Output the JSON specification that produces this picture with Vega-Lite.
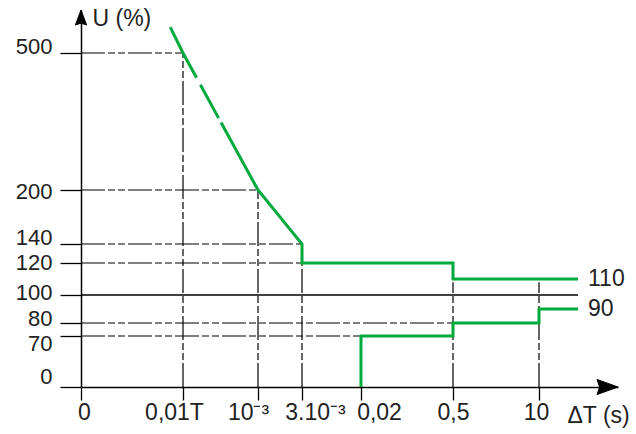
{
  "$schema": "https://vega.github.io/schema/vega-lite/v6.json",
  "width": 555,
  "height": 387,
  "autosize": {"type": "none"},
  "padding": {"left": 81, "top": 0, "right": 0, "bottom": 47},
  "background": "white",
  "config": {"view": {"stroke": null}, "font": "Liberation Sans"},
  "datasets": {
    "guides": [
      {"t": 0, "t2": 0.0002, "u": 500, "u2": 500},
      {"t": 0, "t2": 0.001, "u": 200, "u2": 200},
      {"t": 0, "t2": 0.003, "u": 140, "u2": 140},
      {"t": 0, "t2": 0.003, "u": 120, "u2": 120},
      {"t": 0, "t2": 0.5, "u": 80, "u2": 80},
      {"t": 0, "t2": 0.02, "u": 70, "u2": 70},
      {"t": 0.0002, "t2": 0.0002, "u": 0, "u2": 500},
      {"t": 0.001, "t2": 0.001, "u": 0, "u2": 200},
      {"t": 0.003, "t2": 0.003, "u": 0, "u2": 120},
      {"t": 0.5, "t2": 0.5, "u": 0, "u2": 108},
      {"t": 10, "t2": 10, "u": 0, "u2": 108}
    ],
    "level": [{"t": 0, "t2": 50, "u": 100, "u2": 100}],
    "curve": [
      {"series": "upper", "i": 0, "t": 0.000175, "u": 560},
      {"series": "upper", "i": 1, "t": 0.0002, "u": 500},
      {"series": "upper", "i": 2, "t": 0.001, "u": 200},
      {"series": "upper", "i": 3, "t": 0.003, "u": 140},
      {"series": "upper", "i": 4, "t": 0.003, "u": 120},
      {"series": "upper", "i": 5, "t": 0.5, "u": 120},
      {"series": "upper", "i": 6, "t": 0.5, "u": 110},
      {"series": "upper", "i": 7, "t": 50, "u": 110},
      {"series": "lower", "i": 0, "t": 0.02, "u": 0},
      {"series": "lower", "i": 1, "t": 0.02, "u": 70},
      {"series": "lower", "i": 2, "t": 0.5, "u": 70},
      {"series": "lower", "i": 3, "t": 0.5, "u": 80},
      {"series": "lower", "i": 4, "t": 10, "u": 80},
      {"series": "lower", "i": 5, "t": 10, "u": 90},
      {"series": "lower", "i": 6, "t": 50, "u": 90}
    ],
    "arrowX": [{"t": 100, "u": 0}],
    "arrowY": [{"t": 0, "u": 600}],
    "ends": [
      {"t": 50, "u": 110, "label": "110"},
      {"t": 50, "u": 90, "label": "90"}
    ]
  },
  "encoding": {
    "x": {
      "field": "t",
      "type": "quantitative",
      "scale": {
        "type": "linear",
        "domain": [0, 0.0002, 0.001, 0.003, 0.02, 0.5, 10, 50, 100],
        "range": [0, 102, 177, 221, 280, 372, 458, 497, 537],
        "nice": false,
        "zero": false
      },
      "axis": {
        "values": [0, 0.0002, 0.001, 0.003, 0.02, 0.5, 10],
        "labelExpr": "datum.value == 0 ? '0' : datum.value == 0.0002 ? '0,01T' : datum.value == 0.001 ? '10⁻³' : datum.value == 0.003 ? '3.10⁻³' : datum.value == 0.02 ? '0,02' : datum.value == 0.5 ? '0,5' : '10'",
        "labelOffset": {"expr": "datum.value == 0 ? 3 : datum.value == 0.0002 ? -9 : datum.value == 0.001 ? -10 : datum.value == 0.003 ? 13 : datum.value == 0.02 ? 18 : datum.value == 0.5 ? 0 : -3"},
        "grid": false,
        "domain": true,
        "domainColor": "#000",
        "domainWidth": 1.5,
        "ticks": true,
        "tickSize": 13,
        "tickColor": "#000",
        "tickWidth": 1.3,
        "labelFont": "Liberation Sans",
        "labelFontSize": 23,
        "labelColor": "#222",
        "labelPadding": 1,
        "labelOverlap": false,
        "labelFlush": false,
        "labelBound": false,
        "title": "ΔT (s)",
        "titleFont": "Liberation Sans",
        "titleFontSize": 23,
        "titleFontWeight": "normal",
        "titleColor": "#222",
        "titleAlign": "left",
        "titleBaseline": "alphabetic",
        "titleAngle": 0,
        "titleX": 486,
        "titleY": 35
      }
    },
    "y": {
      "field": "u",
      "type": "quantitative",
      "scale": {
        "type": "linear",
        "domain": [0, 70, 80, 100, 120, 140, 200, 500, 600],
        "range": [387, 336, 323, 295, 263, 244, 190, 53, 10],
        "nice": false,
        "zero": false
      },
      "axis": {
        "values": [0, 70, 80, 100, 120, 140, 200, 500],
        "labelOffset": {"expr": "datum.value == 500 ? -7 : datum.value == 200 ? 1 : datum.value == 140 ? -7 : datum.value == 120 ? -1 : datum.value == 100 ? -3 : datum.value == 80 ? -5 : datum.value == 70 ? 7 : -11"},
        "grid": false,
        "domain": true,
        "domainColor": "#000",
        "domainWidth": 1.5,
        "ticks": true,
        "tickSize": 21,
        "tickColor": "#000",
        "tickWidth": 1.3,
        "labelFont": "Liberation Sans",
        "labelFontSize": 22,
        "labelColor": "#222",
        "labelPadding": 8,
        "labelOverlap": false,
        "labelFlush": false,
        "labelBound": false,
        "title": "U (%)",
        "titleFont": "Liberation Sans",
        "titleFontSize": 23,
        "titleFontWeight": "normal",
        "titleColor": "#222",
        "titleAlign": "left",
        "titleBaseline": "alphabetic",
        "titleAngle": 0,
        "titleX": 11,
        "titleY": 25
      }
    }
  },
  "layer": [
    {
      "data": {"name": "guides"},
      "mark": {"type": "rule", "color": "#000", "strokeWidth": 1.2, "strokeDash": [24, 3, 7, 3, 7, 3]},
      "encoding": {
        "x2": {"field": "t2"},
        "y2": {"field": "u2"}
      }
    },
    {
      "data": {"name": "level"},
      "mark": {"type": "rule", "color": "#000", "strokeWidth": 1.3},
      "encoding": {
        "x2": {"field": "t2"},
        "y2": {"field": "u2"}
      }
    },
    {
      "data": {"name": "curve"},
      "transform": [{"filter": "datum.series == 'upper'"}],
      "mark": {"type": "line", "color": "#00aa3c", "strokeWidth": 3, "strokeDash": [57, 8, 38, 5, 3000, 1], "strokeCap": "butt"},
      "encoding": {
        "order": {"field": "i", "type": "quantitative"}
      }
    },
    {
      "data": {"name": "curve"},
      "transform": [{"filter": "datum.series == 'lower'"}],
      "mark": {"type": "line", "color": "#00aa3c", "strokeWidth": 3, "strokeCap": "butt"},
      "encoding": {
        "order": {"field": "i", "type": "quantitative"}
      }
    },
    {
      "data": {"name": "arrowX"},
      "mark": {"type": "point", "shape": "M0,0L-2,-0.72L-1.75,0L-2,0.72Z", "size": 441, "filled": true, "color": "#000", "opacity": 1, "strokeWidth": 1, "stroke": "#000"}
    },
    {
      "data": {"name": "arrowY"},
      "mark": {"type": "point", "shape": "M0,0L-0.75,2L0,1.75L0.75,2Z", "size": 225, "filled": true, "color": "#000", "opacity": 1, "strokeWidth": 1, "stroke": "#000"}
    },
    {
      "data": {"name": "ends"},
      "mark": {"type": "text", "align": "left", "baseline": "middle", "dx": 10, "fontSize": 23, "font": "Liberation Sans", "color": "#222"},
      "encoding": {
        "text": {"field": "label"}
      }
    }
  ]
}
